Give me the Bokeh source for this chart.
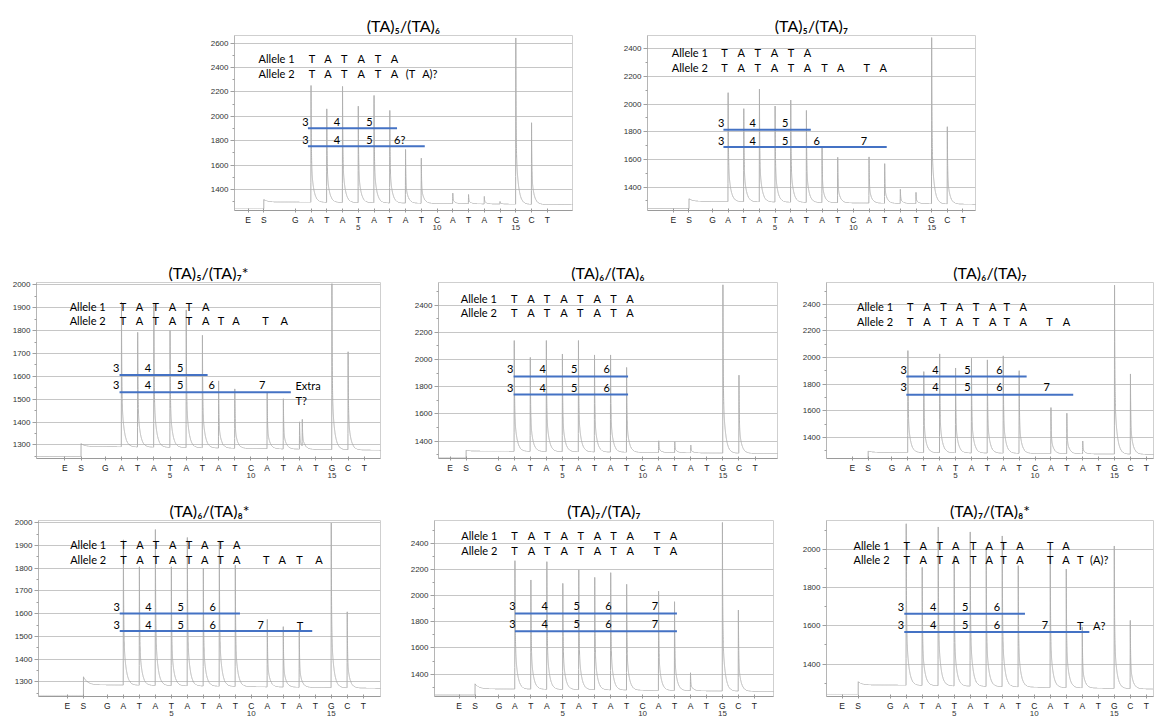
import numpy as np
from bokeh.plotting import figure
from bokeh.layouts import column, row
from bokeh.models import Range1d, FixedTicker, SingleIntervalTicker, LinearAxis, Spacer
from bokeh.core.properties import value
from bokeh.embed import file_html
from bokeh.resources import INLINE

# ---------------- DATA ----------------
DISPENSATION = ["G", "A", "T", "A", "T", "A", "T", "A", "T", "C", "A", "T", "A", "T", "G", "C", "T"]  # 1..17
NUMBER_TICKS = [5, 10, 15]

titles = ["(TA)\u2085/(TA)\u2086", "(TA)\u2085/(TA)\u2087", "(TA)\u2085/(TA)\u2087*",
          "(TA)\u2086/(TA)\u2086", "(TA)\u2086/(TA)\u2087", "(TA)\u2086/(TA)\u2088*",
          "(TA)\u2087/(TA)\u2087", "(TA)\u2087/(TA)\u2088*"]

# peak signal at dispensations 1..17 (0 = no peak)
p1_peaks = [0, 2253, 2061, 2245, 2083, 2171, 2048, 1728, 1657, 0, 1370, 1359, 1343, 1302, 2643, 1947, 0]
p2_peaks = [0, 2083, 1967, 2109, 1986, 2029, 1954, 1690, 1615, 0, 1618, 1569, 1383, 1361, 2482, 1836, 0]
p3_peaks = [0, 1925, 1792, 1915, 1800, 1890, 1779, 1580, 1545, 0, 1531, 1502, 1401, 0, 2005, 1707, 0]
p4_peaks = [0, 2139, 2015, 2139, 2040, 2139, 2033, 2033, 1941, 0, 1402, 1395, 1370, 0, 2549, 1884, 0]
p5_peaks = [0, 2052, 1894, 2027, 1921, 1994, 1982, 2012, 1901, 0, 1624, 1581, 1372, 0, 2544, 1876, 0]
p6_peaks = [0, 1925, 1806, 1970, 1806, 1935, 1800, 1920, 1813, 0, 1575, 1543, 1525, 0, 1999, 1608, 0]
p7_peaks = [0, 2267, 2119, 2259, 2093, 2196, 2139, 2175, 2086, 0, 2034, 1953, 1410, 0, 2559, 1889, 0]
p8_peaks = [0, 2133, 1905, 2116, 1965, 2090, 2009, 2069, 1914, 0, 1995, 1896, 1594, 0, 2017, 1628, 0]
p3_extra_pos = [13.17]
p3_extra_peak = [1398]

# baseline: level before S, level just after S, level at start, level at end
p1_base = [1242, 1318, 1297, 1275]
p2_base = [1243, 1315, 1296, 1275]
p3_base = [1249, 1306, 1293, 1277]
p4_base = [1276, 1333, 1326, 1308]
p5_base = [1241, 1297, 1287, 1272]
p6_base = [1242, 1323, 1287, 1272]
p7_base = [1241, 1326, 1287, 1267]
p8_base = [1243, 1308, 1291, 1270]

allele1 = [list("TATATA"), list("TATATA"), list("TATATA"), list("TATATATA"),
           list("TATATATA"), list("TATATATA"), list("TATATATATA"), list("TATATATATA")]
allele2 = [list("TATATA") + ["(T", "A)?"], list("TATATATATA"), list("TATATATATA"), list("TATATATA"),
           list("TATATATATA"), list("TATATATATATA") + ["(A)?"], list("TATATATATA"), list("TATATATATAT") + ["(A)?"]]
repeats_upper = [["3", "4", "5"], ["3", "4", "5"], ["3", "4", "5"], ["3", "4", "5", "6"],
                 ["3", "4", "5", "6"], ["3", "4", "5", "6"], ["3", "4", "5", "6", "7"], ["3", "4", "5", "6"]]
repeats_lower = [["3", "4", "5", "6?"], ["3", "4", "5", "6", "7"], ["3", "4", "5", "6", "7"], ["3", "4", "5", "6"],
                 ["3", "4", "5", "6", "7"], ["3", "4", "5", "6", "7", "T"], ["3", "4", "5", "6", "7"],
                 ["3", "4", "5", "6", "7", "T", "A?"]]

# ---------------- LAYOUT (positions in data units) ----------------
L = [
    dict(xr=(-2.86, 18.6), yr=(1228, 2663), step=200, gap=2.0, W=380, H=240, bl=34, br=8, bt=35, bb=30,
         lab_x=-1.33, ay=(2471, 2354),
         a1x=[2.06, 3.08, 4.11, 5.19, 6.25, 7.29], a2x=[2.06, 3.08, 4.11, 5.19, 6.25, 7.29, 8.31, 9.54],
         ux=[1.64, 3.65, 5.70], lx=[1.64, 3.65, 5.70, 7.63], ny=(1952, 1807),
         ul=(1.80, 7.46, 1903), ll=(1.80, 9.22, 1755)),
    dict(xr=(-3.15, 17.8), yr=(1230, 2497), step=200, gap=1.5, W=405, H=240, bl=67, br=10, bt=35, bb=30,
         lab_x=-1.60, ay=(2376, 2267),
         a1x=[1.77, 2.83, 3.89, 4.96, 6.02, 7.06],
         a2x=[1.77, 2.83, 3.89, 4.96, 6.02, 7.06, 8.15, 9.19, 10.85, 11.91],
         ux=[1.55, 3.57, 5.64], lx=[1.55, 3.57, 5.64, 7.66, 10.68], ny=(1865, 1734),
         ul=(1.70, 7.28, 1814), ll=(1.70, 12.13, 1690)),
    dict(xr=(-3.25, 18.0), yr=(1241, 2010), step=100, gap=1.5, W=392, H=248, bl=36, br=12, bt=42, bb=30,
         lab_x=-1.20, ay=(1906, 1844),
         a1x=[2.09, 3.11, 4.12, 5.15, 6.17, 7.20],
         a2x=[2.09, 3.11, 4.12, 5.15, 6.17, 7.20, 8.15, 9.07, 10.90, 12.05],
         ux=[1.68, 3.63, 5.62], lx=[1.68, 3.63, 5.62, 7.57, 10.69], ny=(1635, 1560),
         ul=(1.88, 7.32, 1606), ll=(1.88, 12.46, 1531)),
    dict(xr=(-2.72, 18.4), yr=(1272, 2566), step=200, gap=2.0, W=393, H=248, bl=46, br=8, bt=42, bb=30,
         lab_x=-1.33, ay=(2449, 2345),
         a1x=[2.0, 3.04, 4.04, 5.1, 6.11, 7.17, 8.19, 9.21], a2x=[2.0, 3.04, 4.04, 5.1, 6.11, 7.17, 8.19, 9.21],
         ux=[1.75, 3.77, 5.74, 7.76], lx=[1.75, 3.77, 5.74, 7.76], ny=(1928, 1792),
         ul=(1.96, 9.09, 1874), ll=(1.96, 9.09, 1742)),
    dict(xr=(-3.12, 17.45), yr=(1241, 2564), step=200, gap=1.5, W=370, H=248, bl=41, br=2, bt=42, bb=30,
         lab_x=-1.20, ay=(2385, 2272),
         a1x=[2.15, 3.20, 4.24, 5.25, 6.29, 7.34, 8.22, 9.26],
         a2x=[2.15, 3.20, 4.24, 5.25, 6.29, 7.34, 8.22, 9.26, 10.9, 11.98],
         ux=[1.73, 3.74, 5.75, 7.76], lx=[1.73, 3.74, 5.75, 7.76, 10.73], ny=(1909, 1780),
         ul=(1.9, 9.47, 1858), ll=(1.9, 12.4, 1720)),
    dict(xr=(-3.31, 18.08), yr=(1236, 2010), step=100, gap=1.5, W=392, H=230, bl=38, br=12, bt=32, bb=21,
         lab_x=-1.33, ay=(1905, 1839),
         a1x=[2.0, 3.04, 4.04, 5.08, 6.10, 7.08, 8.08, 9.08],
         a2x=[2.0, 3.04, 4.04, 5.08, 6.10, 7.08, 8.08, 9.08, 10.94, 11.94, 13.02, 14.23],
         ux=[1.58, 3.56, 5.58, 7.58], lx=[1.58, 3.56, 5.58, 7.58, 10.58, 13.04], ny=(1630, 1550),
         ul=(1.77, 9.29, 1601), ll=(1.77, 13.81, 1524)),
    dict(xr=(-3.04, 18.2), yr=(1229, 2574), step=200, gap=1.5, W=393, H=230, bl=42, br=12, bt=32, bb=21,
         lab_x=-1.36, ay=(2459, 2346),
         a1x=[1.98, 3.03, 4.03, 5.08, 6.13, 7.17, 8.18, 9.22, 10.9, 11.94],
         a2x=[1.98, 3.03, 4.03, 5.08, 6.13, 7.17, 8.18, 9.22, 10.9, 11.94],
         ux=[1.84, 3.87, 5.87, 7.86, 10.77], lx=[1.84, 3.87, 5.87, 7.86, 10.77], ny=(1919, 1781),
         ul=(2.0, 12.15, 1863), ll=(2.0, 12.15, 1727)),
    dict(xr=(-2.98, 17.45), yr=(1231, 2150), step=200, gap=2.0, W=370, H=230, bl=41, br=2, bt=32, bb=21,
         lab_x=-1.29, ay=(2022, 1948),
         a1x=[2.04, 3.06, 4.10, 5.10, 6.19, 7.19, 8.08, 9.10, 11.0, 11.98],
         a2x=[2.04, 3.06, 4.10, 5.10, 6.19, 7.19, 8.08, 9.10, 11.0, 11.98, 12.88, 14.06],
         ux=[1.67, 3.69, 5.69, 7.67], lx=[1.67, 3.69, 5.69, 7.67, 10.67, 12.88, 14.06], ny=(1697, 1602),
         ul=(1.88, 9.42, 1663), ll=(1.88, 13.44, 1568)),
]

peaks_all = [p1_peaks, p2_peaks, p3_peaks, p4_peaks, p5_peaks, p6_peaks, p7_peaks, p8_peaks]
base_all = [p1_base, p2_base, p3_base, p4_base, p5_base, p6_base, p7_base, p8_base]
extras = {2: (p3_extra_pos, p3_extra_peak)}

FONT = "Lato"
TICK_FONT = "Liberation Sans"
TRACE = "#b0b0b0"
BLUE = "#4472C4"


def shape(d):
    g = np.zeros_like(d)
    r = (d >= -0.012) & (d < 0)
    g[r] = (d[r] + 0.012) / 0.012
    m = d >= 0
    g[m] = 0.64 * np.exp(-d[m] / 0.018) + 0.36 * np.exp(-d[m] / 0.15)
    return g


def build_trace(xr, gap, peaks, base, extra):
    x0, x1 = xr
    S = 1 - gap
    x = np.arange(x0, x1, 0.002)
    pre, spk, start, end = base
    b = np.where(x < 1, start, start + (end - start) * (x - 1) / (x1 - 1))
    y = b.copy()
    y[x < S] = pre
    d = x - S
    m = d >= 0
    y[m] += (spk - start) * np.exp(-d[m] / 0.25)
    pos_list = list(range(1, 18))
    h_list = list(peaks)
    if extra:
        pos_list += list(extra[0])
        h_list += list(extra[1])
    for pos, h in zip(pos_list, h_list):
        if h:
            bl = start if pos < 1 else start + (end - start) * (pos - 1) / (x1 - 1)
            y += (h - bl) * shape(x - pos)
    return x, y


def panel(i):
    lay = L[i]
    p = figure(width=lay["W"], height=lay["H"], min_border_left=lay["bl"], min_border_right=lay["br"],
               min_border_top=lay["bt"], min_border_bottom=lay["bb"],
               x_range=Range1d(*lay["xr"]), y_range=Range1d(*lay["yr"]),
               output_backend="svg", toolbar_location=None, background_fill_color="white",
               border_fill_color="white", outline_line_color="#cfcfcf")
    p.title.text = titles[i]
    p.title.text_font = FONT
    p.title.text_font_size = "16px"
    p.title.text_font_style = "normal"
    p.title.align = "center"
    p.title.standoff = 2
    p.title.text_color = "black"

    p.xgrid.visible = False
    p.ygrid.grid_line_color = "#c6c6c6"
    p.ygrid.grid_line_width = 1

    ya = p.yaxis[0]
    ya.ticker = SingleIntervalTicker(interval=lay["step"], num_minor_ticks=2)
    ya.major_label_text_font = TICK_FONT
    ya.major_label_text_font_size = "8px"
    ya.major_label_text_color = "#333333"
    ya.axis_line_color = "#b5b5b5"
    ya.major_tick_line_color = "#a0a0a0"
    ya.minor_tick_line_color = "#a0a0a0"
    ya.major_tick_in = 0
    ya.major_tick_out = 4
    ya.minor_tick_in = 0
    ya.minor_tick_out = 2
    ya.major_label_standoff = 2

    gap = lay["gap"]
    S = 1 - gap
    E = S - 1
    ticks = [E, S] + list(range(1, 18))
    labels = ["E", "S"] + DISPENSATION
    xa = p.xaxis[0]
    xa.ticker = FixedTicker(ticks=ticks, minor_ticks=[])
    xa.major_label_overrides = {t: lab for t, lab in zip(ticks, labels)}
    xa.major_label_text_font = TICK_FONT
    xa.major_label_text_font_size = "8.5px"
    xa.major_label_text_color = "#222222"
    xa.axis_line_color = "#9a9a9a"
    xa.major_tick_line_color = "#9a9a9a"
    xa.major_tick_in = 2
    xa.major_tick_out = 2
    xa.major_label_standoff = 2

    xb = LinearAxis(ticker=FixedTicker(ticks=NUMBER_TICKS, minor_ticks=[]))
    xb.major_label_text_font = TICK_FONT
    xb.major_label_text_font_size = "8px"
    xb.major_label_text_color = "#333333"
    xb.axis_line_color = None
    xb.major_tick_line_color = None
    xb.minor_tick_line_color = None
    xb.major_tick_in = 0
    xb.major_tick_out = 0
    xb.major_label_standoff = -3
    p.add_layout(xb, "below")

    x, y = build_trace(lay["xr"], gap, peaks_all[i], base_all[i], extras.get(i))
    p.line(x, y, line_color=TRACE, line_width=1)

    tf = value(FONT)
    ay1, ay2 = lay["ay"]
    p.text(x=[lay["lab_x"], lay["lab_x"]], y=[ay1, ay2], text=["Allele 1", "Allele 2"],
           text_font=tf, text_font_size="11px", text_align="left", text_baseline="middle", text_color="black")
    p.text(x=lay["a1x"], y=[ay1] * len(allele1[i]), text=allele1[i], text_font=tf, text_font_size="11px",
           text_align="center", text_baseline="middle", text_color="black")
    p.text(x=lay["a2x"], y=[ay2] * len(allele2[i]), text=allele2[i], text_font=tf, text_font_size="11px",
           text_align="center", text_baseline="middle", text_color="black")
    uy, ly = lay["ny"]
    p.text(x=lay["ux"], y=[uy] * len(repeats_upper[i]), text=repeats_upper[i], text_font=tf,
           text_font_size="11px", text_align="center", text_baseline="middle", text_color="black")
    p.text(x=lay["lx"], y=[ly] * len(repeats_lower[i]), text=repeats_lower[i], text_font=tf,
           text_font_size="11px", text_align="center", text_baseline="middle", text_color="black")
    u0, u1, uyl = lay["ul"]
    l0, l1, lyl = lay["ll"]
    p.segment(x0=[u0, l0], y0=[uyl, lyl], x1=[u1, l1], y1=[uyl, lyl], line_color=BLUE, line_width=2)
    if i == 2:
        p.text(x=[12.75, 12.75], y=[1560, 1495], text=["Extra", "T?"], text_font=tf, text_font_size="11px",
               text_align="left", text_baseline="middle", text_color="black")
    return p


figs = [panel(i) for i in range(8)]
layout = column(
    row(Spacer(width=200, height=240), figs[0], figs[1]),
    row(figs[2], figs[3], figs[4]),
    row(figs[5], figs[6], figs[7]),
)

open("out.html", "w").write(file_html(layout, INLINE))
